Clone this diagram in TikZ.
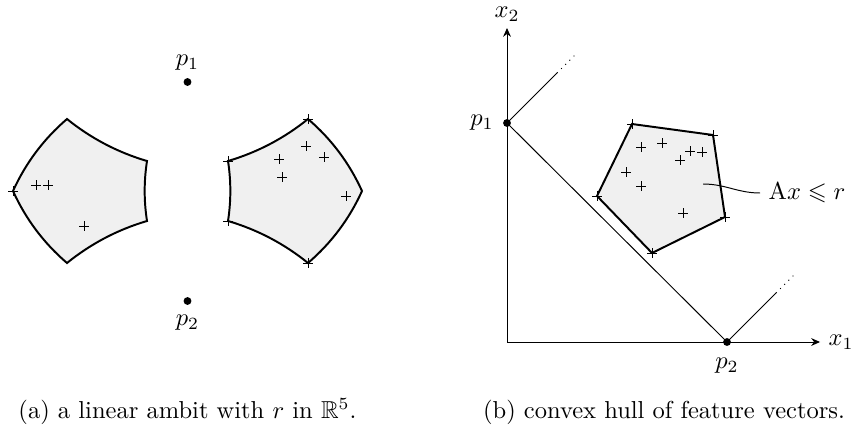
\documentclass[tikz,border=0pt]{standalone}
\usepackage{amssymb}
\usetikzlibrary{arrows.meta}
\begin{document}
\begin{tikzpicture}[x=0.408pt,y=-0.408pt,
  region/.style={draw=black, thick, fill=black!6, line join=miter},
  dot/.style={circle, fill=black, inner sep=0pt, minimum size=3.2pt},
  crosses/.style={only marks, mark=+, mark size=2pt},
  axis/.style={-{Stealth[length=3.6pt,width=3.2pt]}},
  caption/.style={anchor=base, inner sep=0pt},
]
\useasboundingbox (0,0) rectangle (851,426);

% ---------------- panel (a) ----------------
\draw[region] (13,191) .. controls (25.7,163) and (43.7,139) .. (67,119)
  .. controls (90.9,138.3) and (117.5,152.3) .. (147,161)
  .. controls (143.9,181) and (143.9,201) .. (147,221)
  .. controls (117.5,229.7) and (90.9,243.7) .. (67,263)
  .. controls (43.7,243) and (25.7,219) .. (13,191) -- cycle;
\draw[region] (362,191) .. controls (349.3,163) and (331.3,139) .. (308,119)
  .. controls (284.1,138.3) and (257.5,152.3) .. (228,161)
  .. controls (231.1,181) and (231.1,201) .. (228,221)
  .. controls (257.5,229.7) and (284.1,243.7) .. (308,263)
  .. controls (331.3,243) and (349.3,219) .. (362,191) -- cycle;

\draw plot[crosses] coordinates {(13,191) (36,185) (48,185) (84,226)};
\draw plot[crosses] coordinates {(228,161) (308,119) (308,263) (228,221)
  (306,146) (279,159) (324,157) (282,177) (346,196)};

\node[dot] (p1a) at (187.5,82) {};
\node[dot] (p2a) at (187.5,301) {};
\node (p1alab) at (187.5,63) {$p_1$};
\node (p2alab) at (187.5,323) {$p_2$};

% ---------------- panel (b) ----------------
\coordinate (O) at (507,342);
\coordinate (xend) at (820,342);
\coordinate (yend) at (507,28);
\draw[axis] (O) -- (xend);
\draw[axis] (O) -- (yend);
\node[anchor=west] (x1lab) at (xend) {$x_1$};
\node (x2lab) at (507,14) {$x_2$};

\node[dot] (p1b) at (507,123) {};
\node[dot] (p2b) at (727,342) {};
\node (p1blab) at (482,123) {$p_1$};
\node (p2blab) at (727,366) {$p_2$};

\coordinate (e1) at (557,73);
\coordinate (f1) at (576,54);
\coordinate (e2) at (776,293);
\coordinate (f2) at (795,274);
\draw (p1b.center) -- (p2b.center);
\draw (p1b.center) -- (e1);
\draw[dotted] (e1) -- (f1);
\draw (p2b.center) -- (e2);
\draw[dotted] (e2) -- (f2);

\draw[region] (632,124) -- (713,135) -- (725,217) -- (652,253) -- (597,196) -- cycle;
\draw plot[crosses] coordinates {(632,124) (713,135) (725,217) (652,253) (597,196)
  (641,147) (662,143) (690,151) (702,152) (680,160) (626,172) (641,186) (683,213)};

\coordinate (lstart) at (703,184);
\node[anchor=west] (ineq) at (760,193) {$\mathrm{A}x \leqslant r$};
\draw (lstart) to[out=0,in=180] (ineq.west);

% ---------------- captions ----------------
\node[caption] (capa) at (187.5,418) {(a) a linear ambit with $r$ in $\mathbb{R}^5$.};
\node[caption] (capb) at (664,418) {(b) convex hull of feature vectors.};
\end{tikzpicture}
\end{document}
